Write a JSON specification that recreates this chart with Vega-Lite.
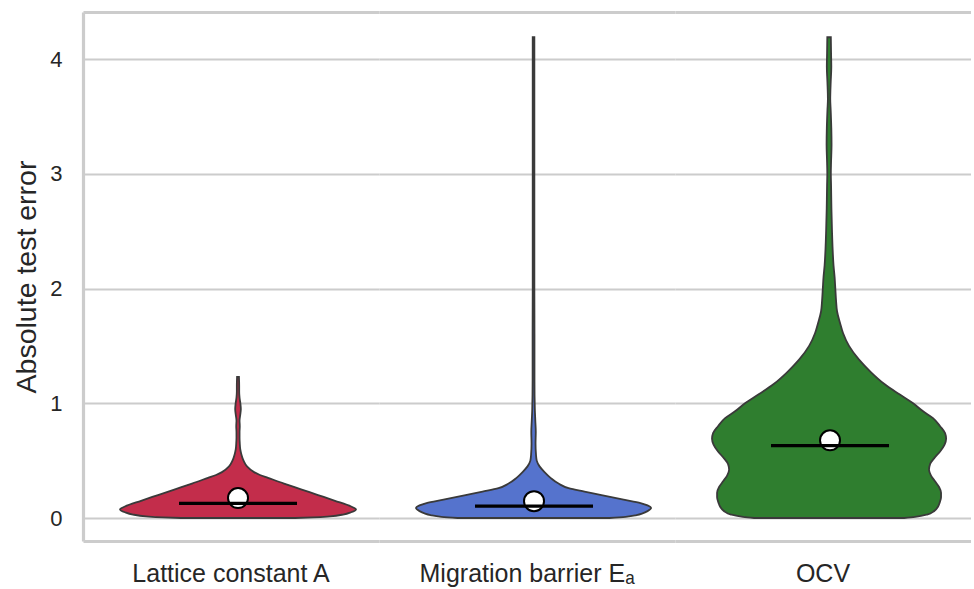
{
  "$schema": "https://vega.github.io/schema/vega-lite/v6.json",
  "padding": {"left": 12, "top": 12, "right": 0, "bottom": 0},
  "background": "white",
  "config": {"font": "Liberation Sans", "view": {"stroke": null}},
  "data": {"values": [
    {"kind": "density", "category": "Lattice constant A", "value": 0, "density": 0.483},
    {"kind": "density", "category": "Lattice constant A", "value": 0.005, "density": 0.636},
    {"kind": "density", "category": "Lattice constant A", "value": 0.015, "density": 0.78},
    {"kind": "density", "category": "Lattice constant A", "value": 0.03, "density": 0.89},
    {"kind": "density", "category": "Lattice constant A", "value": 0.05, "density": 0.958},
    {"kind": "density", "category": "Lattice constant A", "value": 0.075, "density": 1.0},
    {"kind": "density", "category": "Lattice constant A", "value": 0.1, "density": 0.958},
    {"kind": "density", "category": "Lattice constant A", "value": 0.15, "density": 0.822},
    {"kind": "density", "category": "Lattice constant A", "value": 0.2, "density": 0.678},
    {"kind": "density", "category": "Lattice constant A", "value": 0.25, "density": 0.534},
    {"kind": "density", "category": "Lattice constant A", "value": 0.3, "density": 0.39},
    {"kind": "density", "category": "Lattice constant A", "value": 0.35, "density": 0.254},
    {"kind": "density", "category": "Lattice constant A", "value": 0.375, "density": 0.186},
    {"kind": "density", "category": "Lattice constant A", "value": 0.4, "density": 0.136},
    {"kind": "density", "category": "Lattice constant A", "value": 0.45, "density": 0.076},
    {"kind": "density", "category": "Lattice constant A", "value": 0.5, "density": 0.047},
    {"kind": "density", "category": "Lattice constant A", "value": 0.55, "density": 0.03},
    {"kind": "density", "category": "Lattice constant A", "value": 0.6, "density": 0.019},
    {"kind": "density", "category": "Lattice constant A", "value": 0.65, "density": 0.015},
    {"kind": "density", "category": "Lattice constant A", "value": 0.7, "density": 0.013},
    {"kind": "density", "category": "Lattice constant A", "value": 0.75, "density": 0.013},
    {"kind": "density", "category": "Lattice constant A", "value": 0.8, "density": 0.015},
    {"kind": "density", "category": "Lattice constant A", "value": 0.85, "density": 0.013},
    {"kind": "density", "category": "Lattice constant A", "value": 0.9, "density": 0.019},
    {"kind": "density", "category": "Lattice constant A", "value": 0.95, "density": 0.024},
    {"kind": "density", "category": "Lattice constant A", "value": 1.0, "density": 0.02},
    {"kind": "density", "category": "Lattice constant A", "value": 1.05, "density": 0.013},
    {"kind": "density", "category": "Lattice constant A", "value": 1.1, "density": 0.01},
    {"kind": "density", "category": "Lattice constant A", "value": 1.15, "density": 0.01},
    {"kind": "density", "category": "Lattice constant A", "value": 1.23, "density": 0.008},

    {"kind": "density", "category": "Migration barrier Eₐ", "value": 0, "density": 0.644},
    {"kind": "density", "category": "Migration barrier Eₐ", "value": 0.01, "density": 0.78},
    {"kind": "density", "category": "Migration barrier Eₐ", "value": 0.025, "density": 0.873},
    {"kind": "density", "category": "Migration barrier Eₐ", "value": 0.04, "density": 0.924},
    {"kind": "density", "category": "Migration barrier Eₐ", "value": 0.06, "density": 0.966},
    {"kind": "density", "category": "Migration barrier Eₐ", "value": 0.087, "density": 0.996},
    {"kind": "density", "category": "Migration barrier Eₐ", "value": 0.11, "density": 0.966},
    {"kind": "density", "category": "Migration barrier Eₐ", "value": 0.13, "density": 0.907},
    {"kind": "density", "category": "Migration barrier Eₐ", "value": 0.16, "density": 0.763},
    {"kind": "density", "category": "Migration barrier Eₐ", "value": 0.2, "density": 0.576},
    {"kind": "density", "category": "Migration barrier Eₐ", "value": 0.23, "density": 0.432},
    {"kind": "density", "category": "Migration barrier Eₐ", "value": 0.26, "density": 0.297},
    {"kind": "density", "category": "Migration barrier Eₐ", "value": 0.3, "density": 0.212},
    {"kind": "density", "category": "Migration barrier Eₐ", "value": 0.35, "density": 0.144},
    {"kind": "density", "category": "Migration barrier Eₐ", "value": 0.4, "density": 0.093},
    {"kind": "density", "category": "Migration barrier Eₐ", "value": 0.45, "density": 0.051},
    {"kind": "density", "category": "Migration barrier Eₐ", "value": 0.5, "density": 0.027},
    {"kind": "density", "category": "Migration barrier Eₐ", "value": 0.55, "density": 0.021},
    {"kind": "density", "category": "Migration barrier Eₐ", "value": 0.65, "density": 0.017},
    {"kind": "density", "category": "Migration barrier Eₐ", "value": 0.75, "density": 0.019},
    {"kind": "density", "category": "Migration barrier Eₐ", "value": 0.85, "density": 0.015},
    {"kind": "density", "category": "Migration barrier Eₐ", "value": 0.95, "density": 0.011},
    {"kind": "density", "category": "Migration barrier Eₐ", "value": 1.2, "density": 0.008},
    {"kind": "density", "category": "Migration barrier Eₐ", "value": 1.6, "density": 0.008},
    {"kind": "density", "category": "Migration barrier Eₐ", "value": 2.0, "density": 0.007},
    {"kind": "density", "category": "Migration barrier Eₐ", "value": 2.5, "density": 0.007},
    {"kind": "density", "category": "Migration barrier Eₐ", "value": 3.0, "density": 0.007},
    {"kind": "density", "category": "Migration barrier Eₐ", "value": 3.5, "density": 0.007},
    {"kind": "density", "category": "Migration barrier Eₐ", "value": 4.19, "density": 0.007},

    {"kind": "density", "category": "OCV", "value": 0, "density": 0.636},
    {"kind": "density", "category": "OCV", "value": 0.01, "density": 0.729},
    {"kind": "density", "category": "OCV", "value": 0.03, "density": 0.831},
    {"kind": "density", "category": "OCV", "value": 0.06, "density": 0.89},
    {"kind": "density", "category": "OCV", "value": 0.1, "density": 0.924},
    {"kind": "density", "category": "OCV", "value": 0.13, "density": 0.936},
    {"kind": "density", "category": "OCV", "value": 0.18, "density": 0.949},
    {"kind": "density", "category": "OCV", "value": 0.22, "density": 0.949},
    {"kind": "density", "category": "OCV", "value": 0.27, "density": 0.932},
    {"kind": "density", "category": "OCV", "value": 0.32, "density": 0.898},
    {"kind": "density", "category": "OCV", "value": 0.37, "density": 0.864},
    {"kind": "density", "category": "OCV", "value": 0.42, "density": 0.847},
    {"kind": "density", "category": "OCV", "value": 0.47, "density": 0.856},
    {"kind": "density", "category": "OCV", "value": 0.52, "density": 0.89},
    {"kind": "density", "category": "OCV", "value": 0.58, "density": 0.941},
    {"kind": "density", "category": "OCV", "value": 0.64, "density": 0.979},
    {"kind": "density", "category": "OCV", "value": 0.69, "density": 0.992},
    {"kind": "density", "category": "OCV", "value": 0.74, "density": 0.983},
    {"kind": "density", "category": "OCV", "value": 0.8, "density": 0.941},
    {"kind": "density", "category": "OCV", "value": 0.87, "density": 0.881},
    {"kind": "density", "category": "OCV", "value": 0.93, "density": 0.797},
    {"kind": "density", "category": "OCV", "value": 1.0, "density": 0.712},
    {"kind": "density", "category": "OCV", "value": 1.08, "density": 0.593},
    {"kind": "density", "category": "OCV", "value": 1.17, "density": 0.466},
    {"kind": "density", "category": "OCV", "value": 1.27, "density": 0.356},
    {"kind": "density", "category": "OCV", "value": 1.38, "density": 0.254},
    {"kind": "density", "category": "OCV", "value": 1.5, "density": 0.169},
    {"kind": "density", "category": "OCV", "value": 1.61, "density": 0.119},
    {"kind": "density", "category": "OCV", "value": 1.7, "density": 0.093},
    {"kind": "density", "category": "OCV", "value": 1.8, "density": 0.068},
    {"kind": "density", "category": "OCV", "value": 1.9, "density": 0.059},
    {"kind": "density", "category": "OCV", "value": 2.0, "density": 0.053},
    {"kind": "density", "category": "OCV", "value": 2.1, "density": 0.047},
    {"kind": "density", "category": "OCV", "value": 2.2, "density": 0.038},
    {"kind": "density", "category": "OCV", "value": 2.35, "density": 0.03},
    {"kind": "density", "category": "OCV", "value": 2.5, "density": 0.025},
    {"kind": "density", "category": "OCV", "value": 2.7, "density": 0.02},
    {"kind": "density", "category": "OCV", "value": 2.9, "density": 0.017},
    {"kind": "density", "category": "OCV", "value": 3.0, "density": 0.015},
    {"kind": "density", "category": "OCV", "value": 3.1, "density": 0.017},
    {"kind": "density", "category": "OCV", "value": 3.25, "density": 0.021},
    {"kind": "density", "category": "OCV", "value": 3.4, "density": 0.019},
    {"kind": "density", "category": "OCV", "value": 3.55, "density": 0.014},
    {"kind": "density", "category": "OCV", "value": 3.65, "density": 0.01},
    {"kind": "density", "category": "OCV", "value": 3.8, "density": 0.014},
    {"kind": "density", "category": "OCV", "value": 3.93, "density": 0.019},
    {"kind": "density", "category": "OCV", "value": 4.05, "density": 0.017},
    {"kind": "density", "category": "OCV", "value": 4.19, "density": 0.015},

    {"kind": "stat", "category": "Lattice constant A", "mean": 0.174, "median": 0.128},
    {"kind": "stat", "category": "Migration barrier Eₐ", "mean": 0.147, "median": 0.104},
    {"kind": "stat", "category": "OCV", "mean": 0.677, "median": 0.63}
  ]},
  "spacing": 0,
  "facet": {
    "column": {
      "field": "category",
      "type": "nominal",
      "sort": ["Lattice constant A", "Migration barrier Eₐ", "OCV"],
      "title": null,
      "header": {"labelOrient": "bottom", "labelFontSize": 25, "labelColor": "#262626", "labelPadding": 21, "labelFont": "Liberation Sans"}
    }
  },
  "spec": {
    "width": 296,
    "height": 529,
    "layer": [
      {
        "transform": [{"filter": "datum.kind === 'density'"}],
        "mark": {"type": "area", "orient": "horizontal", "interpolate": "monotone", "stroke": "#3a3a3a", "strokeWidth": 1.8, "opacity": 1},
        "encoding": {
          "y": {
            "field": "value", "type": "quantitative",
            "scale": {"domain": [-0.2004, 4.41], "nice": false, "zero": false},
            "axis": {"title": "Absolute test error", "values": [0, 1, 2, 3, 4], "grid": true, "gridColor": "#cccccc", "gridWidth": 2.2, "domainColor": "#cccccc", "domainWidth": 3.2, "ticks": false, "labelFontSize": 22, "labelColor": "#262626", "labelPadding": 21, "titleFontSize": 28.5, "titleFontWeight": "normal", "titleColor": "#262626", "titlePadding": 8}
          },
          "x": {
            "field": "density", "type": "quantitative", "stack": "center", "impute": null,
            "scale": {"domain": [-0.1568, 1.0974], "nice": false, "zero": false},
            "axis": {"orient": "bottom", "labels": false, "ticks": false, "grid": false, "title": null, "domainColor": "#cccccc", "domainWidth": 3.2}
          },
          "color": {
            "field": "category", "type": "nominal",
            "scale": {"domain": ["Lattice constant A", "Migration barrier Eₐ", "OCV"], "range": ["#C32D4B", "#5573CD", "#2F7E2F"]},
            "legend": null
          }
        }
      },
      {
        "transform": [{"filter": "datum.kind === 'stat'"}],
        "mark": {"type": "point", "shape": "circle", "filled": true, "fill": "white", "stroke": "black", "strokeWidth": 2, "size": 400, "opacity": 1},
        "encoding": {
          "x": {"datum": 0.5, "axis": null},
          "y": {"field": "mean", "type": "quantitative", "axis": {"title": "Absolute test error", "values": [0, 1, 2, 3, 4], "grid": true, "gridColor": "#cccccc", "gridWidth": 2.2, "domainColor": "#cccccc", "domainWidth": 3.2, "ticks": false, "labelFontSize": 22, "labelColor": "#262626", "labelPadding": 21, "titleFontSize": 28.5, "titleFontWeight": "normal", "titleColor": "#262626", "titlePadding": 8}}
        }
      },
      {
        "transform": [{"filter": "datum.kind === 'stat'"}],
        "mark": {"type": "rule", "color": "black", "strokeWidth": 3.3},
        "encoding": {
          "x": {"datum": 0.25, "axis": {"orient": "top", "labels": false, "ticks": false, "grid": false, "title": null, "domainColor": "#cccccc", "domainWidth": 3.2}},
          "x2": {"datum": 0.75},
          "y": {"field": "median", "type": "quantitative", "axis": {"title": "Absolute test error", "values": [0, 1, 2, 3, 4], "grid": true, "gridColor": "#cccccc", "gridWidth": 2.2, "domainColor": "#cccccc", "domainWidth": 3.2, "ticks": false, "labelFontSize": 22, "labelColor": "#262626", "labelPadding": 21, "titleFontSize": 28.5, "titleFontWeight": "normal", "titleColor": "#262626", "titlePadding": 8}}
        }
      }
    ],
    "resolve": {"axis": {"x": "independent"}}
  }
}
